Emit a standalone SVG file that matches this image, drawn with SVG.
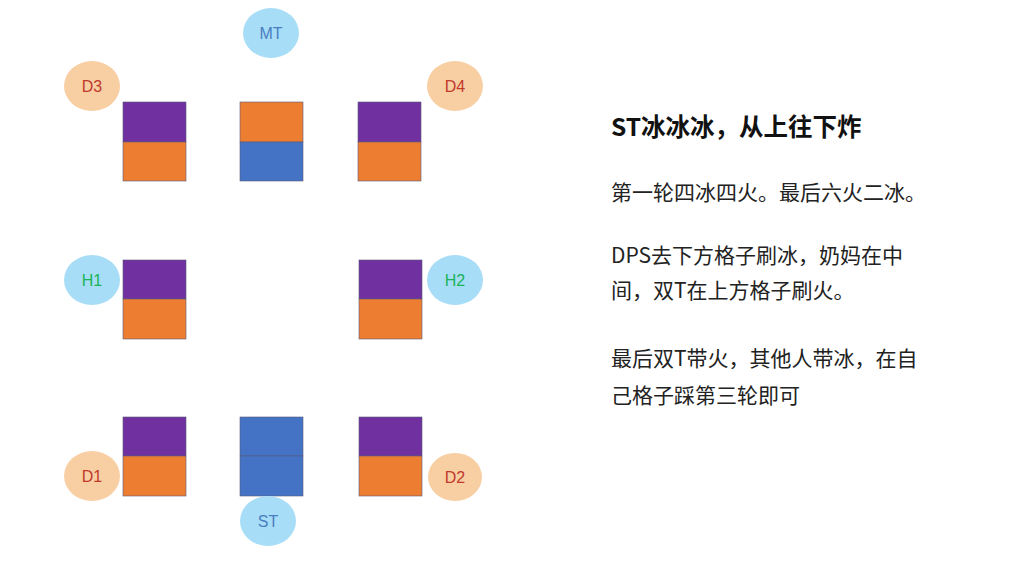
<svg xmlns="http://www.w3.org/2000/svg" width="1024" height="576" viewBox="0 0 1024 576">
<style>
.p{fill:#7030A0}.o{fill:#ED7D31}.b{fill:#4472C4}
.sq{stroke:#5a5a7a;stroke-width:0.6}
.co{fill:#F8CFA3}.cb{fill:#A7DDF6}
.lbl{font-family:"Liberation Sans",Arial,sans-serif;font-size:16px;text-anchor:middle;dominant-baseline:central}
.dl{fill:#C0392B}.hl{fill:#19B35A}.tl{fill:#4A7EC2}
.t{font-family:"Noto Sans CJK SC","Noto Sans",sans-serif;font-size:21px;fill:#222}
.h{font-family:"Noto Sans CJK SC","Noto Sans",sans-serif;font-size:24.5px;font-weight:bold;fill:#111}
</style>
<rect width="1024" height="576" fill="#fff"/>
<g id="sq-tl"><rect class="p sq" x="123" y="102" width="63" height="40"/><rect class="o sq" x="123" y="142" width="63" height="39"/></g>
<g id="sq-tc"><rect class="o sq" x="240" y="102" width="63" height="40"/><rect class="b sq" x="240" y="142" width="63" height="39"/></g>
<g id="sq-tr"><rect class="p sq" x="358" y="102" width="63" height="40"/><rect class="o sq" x="358" y="142" width="63" height="39"/></g>
<g id="sq-ml"><rect class="p sq" x="123" y="260" width="63" height="39"/><rect class="o sq" x="123" y="299" width="63" height="40"/></g>
<g id="sq-mr"><rect class="p sq" x="359" y="260" width="63" height="39"/><rect class="o sq" x="359" y="299" width="63" height="40"/></g>
<g id="sq-bl"><rect class="p sq" x="123" y="417" width="63" height="39"/><rect class="o sq" x="123" y="456" width="63" height="40"/></g>
<g id="sq-bc"><rect class="b sq" x="240" y="417" width="63" height="39"/><rect class="b sq" x="240" y="456" width="63" height="40"/></g>
<g id="sq-br"><rect class="p sq" x="359" y="417" width="63" height="39"/><rect class="o sq" x="359" y="456" width="63" height="40"/></g>
<g id="MT"><ellipse class="cb" cx="271" cy="33" rx="28" ry="25"/><text class="lbl tl" x="271" y="33">MT</text></g>
<g id="D3"><ellipse class="co" cx="92" cy="86" rx="28" ry="25"/><text class="lbl dl" x="92" y="86">D3</text></g>
<g id="D4"><ellipse class="co" cx="455" cy="86" rx="28" ry="25"/><text class="lbl dl" x="455" y="86">D4</text></g>
<g id="H1"><ellipse class="cb" cx="92" cy="280" rx="28" ry="25"/><text class="lbl hl" x="92" y="280">H1</text></g>
<g id="H2"><ellipse class="cb" cx="455" cy="280" rx="28" ry="25"/><text class="lbl hl" x="455" y="280">H2</text></g>
<g id="D1"><ellipse class="co" cx="92" cy="476" rx="28" ry="25"/><text class="lbl dl" x="92" y="476">D1</text></g>
<g id="D2"><ellipse class="co" cx="455" cy="477" rx="27" ry="24"/><text class="lbl dl" x="455" y="477">D2</text></g>
<g id="ST"><ellipse class="cb" cx="268" cy="521" rx="28" ry="25"/><text class="lbl tl" x="268" y="521">ST</text></g>
<g id="connectors"/>
<g id="notes">
<text class="h" x="611" y="136">ST冰冰冰，从上往下炸</text>
<text class="t" x="611" y="200">第一轮四冰四火。最后六火二冰。</text>
<text class="t" x="611" y="263">DPS去下方格子刷冰，奶妈在中</text>
<text class="t" x="611" y="298">间，双T在上方格子刷火。</text>
<text class="t" x="611" y="366">最后双T带火，其他人带冰，在自</text>
<text class="t" x="611" y="403">己格子踩第三轮即可</text>
</g>
</svg>
